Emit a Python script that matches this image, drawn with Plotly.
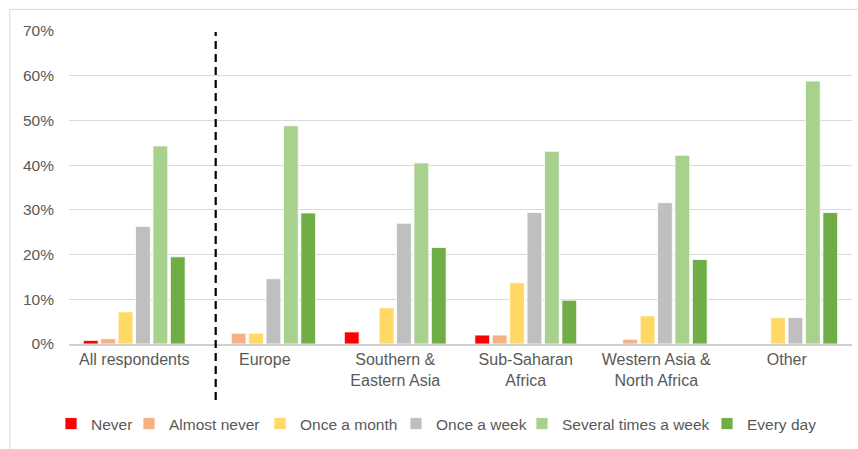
import plotly.graph_objects as go

categories = ["All respondents", "Europe", "Southern &<br>Eastern Asia", "Sub-Saharan<br>Africa",
              "Western Asia &<br>North Africa", "Other"]
series_names = ["Never", "Almost never", "Once a month", "Once a week", "Several times a week", "Every day"]
colors = ["#FF0000", "#F4B183", "#FFD966", "#BFBFBF", "#A9D18E", "#70AD47"]

never = [0.008, 0.0, 0.027, 0.020, 0.0, 0.0]
almost_never = [0.012, 0.024, 0.0, 0.020, 0.0105, 0.0]
once_month = [0.072, 0.024, 0.081, 0.137, 0.063, 0.059]
once_week = [0.263, 0.146, 0.270, 0.294, 0.316, 0.059]
several_week = [0.443, 0.488, 0.405, 0.431, 0.422, 0.588]
every_day = [0.195, 0.293, 0.216, 0.098, 0.189, 0.294]
series_values = [never, almost_never, once_month, once_week, several_week, every_day]

y_ticks = [0, 0.1, 0.2, 0.3, 0.4, 0.5, 0.6, 0.7]
y_tick_labels = ["0%", "10%", "20%", "30%", "40%", "50%", "60%", "70%"]

FONT = "Liberation Sans, Arial, sans-serif"
TXT = "#595959"

W, H = 858, 449
ML, MR, MT, MB = 69, 6, 31, 105
PW = W - ML - MR
PH = H - MT - MB

# legend text start positions (px) in the layout
legend_text_px = [91, 169, 300, 436, 562, 747]
legend_center_px = 424

fig = go.Figure()
legend_ids = ["legend"] + [f"legend{i}" for i in range(2, 7)]
for name, vals, col, lid in zip(series_names, series_values, colors, legend_ids):
    fig.add_trace(go.Bar(
        x=list(range(len(categories))), y=vals, name=name, legend=lid,
        marker=dict(color=col, line=dict(color="white", width=0.8)),
        hoverinfo="skip",
    ))

legend_layout = {}
for lid, tx in zip(legend_ids, legend_text_px):
    legend_layout[lid] = dict(
        orientation="h", x=(tx - 40 - ML) / PW, xanchor="left",
        y=(H - MB - legend_center_px) / PH, yanchor="middle",
        font=dict(family=FONT, size=15.5, color=TXT), bgcolor="rgba(0,0,0,0)",
        borderwidth=0, itemwidth=30,
    )

# dashed separator between "All respondents" and regions (extends through label area)
sep_x = (215.7 - ML) / PW
fig.add_shape(type="line", xref="paper", yref="paper", x0=sep_x, x1=sep_x,
              y0=(H - MB - 400) / PH, y1=(H - MB - 32) / PH,
              line=dict(color="black", width=2.2, dash="8px,5px"))
# outer chart border
fig.add_shape(type="rect", xref="paper", yref="paper", x0=-0.0755, x1=1.2, y0=-0.5, y1=1.069,
              line=dict(color="#D9D9D9", width=1), layer="below")

fig.update_layout(
    width=W, height=H,
    margin=dict(l=ML, r=MR, t=MT, b=MB, autoexpand=False),
    paper_bgcolor="white", plot_bgcolor="white",
    barmode="group", bargap=0.2, bargroupgap=0.15,
    font=dict(family=FONT, size=16, color=TXT),
    showlegend=True,
    xaxis=dict(tickmode="array", tickvals=list(range(len(categories))), ticktext=categories,
               range=[-0.5, 5.5], showgrid=False, showline=True, linecolor="#D0D0D0",
               linewidth=1.5, ticks="", zeroline=False, fixedrange=True),
    yaxis=dict(range=[0, 0.70], tickmode="array", tickvals=y_ticks, ticktext=y_tick_labels,
               showgrid=True, gridcolor="#D9D9D9", gridwidth=1, zeroline=False,
               showline=False, ticks="", ticklabelstandoff=14, fixedrange=True,
               tickfont=dict(size=15.5)),
    **legend_layout,
)

fig.write_html("out.html", config={"displayModeBar": False},
               post_script="document.body.style.margin='0';document.body.style.overflow='hidden';")
